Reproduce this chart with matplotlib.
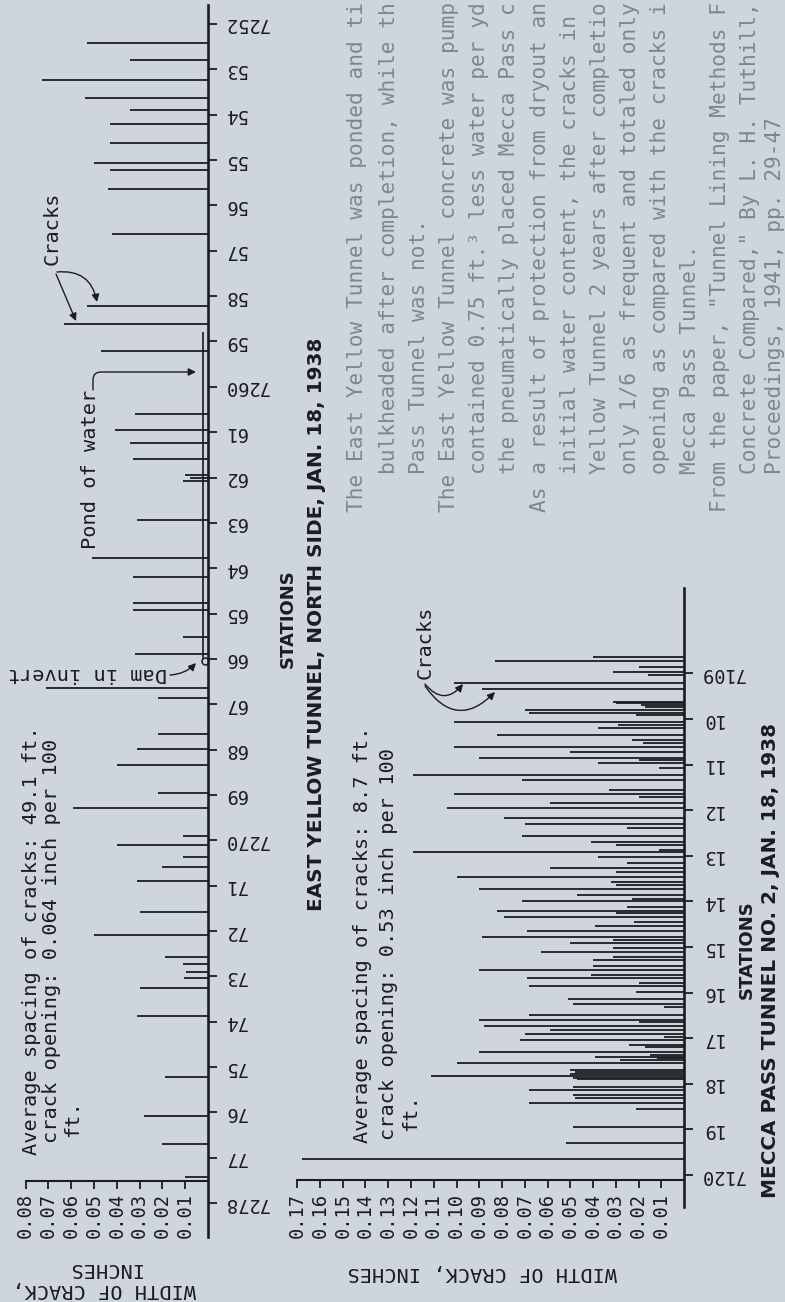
import matplotlib.pyplot as plt

# --- chart data ---
# East Yellow Tunnel, north side: crack position (station) and width (inches)
ey_station = [7252.42, 7252.79, 7253.23, 7253.63, 7253.90, 7254.21, 7254.62, 7255.07,
              7255.22, 7255.64, 7256.63, 7258.22, 7258.62, 7259.21, 7260.60, 7260.95,
              7261.24, 7261.59, 7261.95, 7262.01, 7262.07, 7262.94, 7263.78, 7264.19,
              7264.77, 7264.93, 7265.52, 7265.89, 7266.64, 7266.86, 7267.66, 7267.99,
              7268.34, 7268.96, 7269.29, 7269.91, 7270.10, 7270.37, 7270.59, 7270.90,
              7271.58, 7272.09, 7272.57, 7272.73, 7272.90, 7273.04, 7273.26, 7273.87,
              7275.22, 7276.08, 7276.70, 7277.42]
ey_width = [0.053, 0.034, 0.073, 0.054, 0.034, 0.043, 0.043, 0.050,
            0.043, 0.044, 0.042, 0.053, 0.063, 0.047, 0.032, 0.041,
            0.034, 0.033, 0.010, 0.008, 0.011, 0.031, 0.051, 0.033,
            0.033, 0.033, 0.011, 0.032, 0.071, 0.022, 0.022, 0.031,
            0.040, 0.022, 0.059, 0.011, 0.040, 0.011, 0.020, 0.031,
            0.030, 0.050, 0.019, 0.011, 0.0095, 0.0105, 0.030, 0.031,
            0.019, 0.028, 0.020, 0.010]
ey_ticks = list(range(7252, 7279))
ey_ticklabels = ['7252', '53', '54', '55', '56', '57', '58', '59', '7260',
                 '61', '62', '63', '64', '65', '66', '67', '68', '69', '7270',
                 '71', '72', '73', '74', '75', '76', '77', '7278']
ey_width_ticks = [0.01, 0.02, 0.03, 0.04, 0.05, 0.06, 0.07, 0.08]

# Mecca Pass Tunnel No. 2
mp_station = [7108.65, 7108.72, 7108.85, 7108.98, 7109.04, 7109.20, 7109.35, 7109.62,
              7109.66, 7109.69, 7109.73, 7109.80, 7109.86, 7109.91, 7110.07, 7110.13,
              7110.20, 7110.35, 7110.46, 7110.53, 7110.62, 7110.73, 7110.85, 7110.91,
              7110.97, 7111.08, 7111.23, 7111.34, 7111.56, 7111.65, 7111.70, 7111.85,
              7111.96, 7112.18, 7112.30, 7112.40, 7112.57, 7112.69, 7112.76, 7112.87,
              7112.92, 7113.03, 7113.16, 7113.27, 7113.35, 7113.46, 7113.57, 7113.64,
              7113.73, 7113.86, 7113.95, 7113.99, 7114.12, 7114.20, 7114.26, 7114.34,
              7114.45, 7114.55, 7114.66, 7114.77, 7114.85, 7114.92, 7115.03, 7115.10,
              7115.21, 7115.29, 7115.41, 7115.50, 7115.61, 7115.69, 7115.78, 7115.85,
              7115.98, 7116.13, 7116.24, 7116.31, 7116.49, 7116.59, 7116.64, 7116.73,
              7116.82, 7116.91, 7116.97, 7117.05, 7117.15, 7117.20, 7117.30, 7117.36,
              7117.41, 7117.44, 7117.48, 7117.55, 7117.70, 7117.75, 7117.79, 7117.82,
              7117.87, 7117.90, 7118.06, 7118.14, 7118.25, 7118.32, 7118.43, 7118.55,
              7118.94, 7119.29, 7119.65]
mp_width = [0.040, 0.083, 0.020, 0.031, 0.016, 0.101, 0.089, 0.031,
            0.030, 0.019, 0.017, 0.070, 0.068, 0.021, 0.101, 0.029,
            0.038, 0.082, 0.023, 0.018, 0.101, 0.050, 0.090, 0.020,
            0.038, 0.011, 0.119, 0.071, 0.033, 0.101, 0.020, 0.059,
            0.104, 0.079, 0.070, 0.025, 0.071, 0.041, 0.030, 0.011,
            0.119, 0.038, 0.025, 0.059, 0.030, 0.100, 0.032, 0.030,
            0.090, 0.047, 0.023, 0.071, 0.025, 0.082, 0.030, 0.079,
            0.022, 0.039, 0.069, 0.089, 0.031, 0.050, 0.031, 0.063,
            0.031, 0.040, 0.040, 0.090, 0.041, 0.069, 0.020, 0.068,
            0.021, 0.051, 0.049, 0.009, 0.068, 0.090, 0.020, 0.088,
            0.059, 0.070, 0.009, 0.072, 0.024, 0.017, 0.090, 0.015,
            0.039, 0.012, 0.028, 0.100, 0.050, 0.048, 0.050, 0.111,
            0.049, 0.047, 0.049, 0.068, 0.049, 0.048, 0.068, 0.021,
            0.049, 0.052, 0.168]
mp_ticks = list(range(7109, 7121))
mp_ticklabels = ['7109', '10', '11', '12', '13', '14', '15', '16', '17', '18', '19', '7120']
mp_width_ticks = [0.01, 0.02, 0.03, 0.04, 0.05, 0.06, 0.07, 0.08, 0.09,
                  0.10, 0.11, 0.12, 0.13, 0.14, 0.15, 0.16, 0.17]

note_lines = [
    'The East Yellow Tunnel was ponded and ti',
    'bulkheaded after completion, while th',
    'Pass Tunnel was not.',
    'The East Yellow Tunnel concrete was pump',
    'contained 0.75 ft.\u00b3 less water per yd',
    'the pneumatically placed Mecca Pass c',
    'As a result of protection from dryout an',
    'initial water content, the cracks in',
    'Yellow Tunnel 2 years after completio',
    'only 1/6 as frequent and totaled only',
    'opening as compared with the cracks i',
    'Mecca Pass Tunnel.',
    'From the paper, "Tunnel Lining Methods F',
    'Concrete Compared," By L. H. Tuthill,',
    'Proceedings, 1941, pp. 29-47',
]
note_first = [True, False, False, True, False, False, True, False, False,
              False, False, False, True, False, False]

# --- layout ---
W, H = 785, 1302
BG = '#cfd5df'
INK = '#1b1c1f'
GREY = '#80868f'
MONO = 'DejaVu Sans Mono'
plt.rcParams['font.family'] = MONO

fig = plt.figure(figsize=(W / 100, H / 100), dpi=100, facecolor=BG)


def fx(px):
    return px / W


def fy(py):
    return 1 - py / H


def P(px, py):
    return (px, H - py)


def panel(x0, x1, zero_px, px_per_001, st_ref, st_ref_px, px_per_st):
    ax = fig.add_axes([fx(x0), 0, (x1 - x0) / W, 1])
    ax.patch.set_visible(False)
    ax.set_xlim((zero_px - x0) / px_per_001 * 0.01, (zero_px - x1) / px_per_001 * 0.01)
    ax.set_ylim(st_ref + (H - st_ref_px) / px_per_st, st_ref - st_ref_px / px_per_st)
    for s in ['top', 'left']:
        ax.spines[s].set_visible(False)
    return ax


def style_axes(ax, st_lo, st_hi, bar_st, ticks, ticklabels, wticks):
    ax.spines['right'].set_position(('data', 0))
    ax.spines['right'].set_bounds(st_lo, st_hi)
    ax.spines['right'].set_linewidth(1.9)
    ax.spines['bottom'].set_position(('data', bar_st))
    ax.spines['bottom'].set_bounds(0, wticks[-1])
    ax.spines['bottom'].set_linewidth(1.5)
    for s in ['right', 'bottom']:
        ax.spines[s].set_color(INK)
    ax.yaxis.tick_right()
    ax.set_yticks(ticks, ticklabels)
    ax.set_xticks(wticks, [f'{v:.2f}' for v in wticks])
    ax.tick_params(axis='y', direction='out', length=6.5, width=1.3, pad=5,
                   labelsize=13.5, labelcolor=INK, color=INK, labelrotation=180)
    ax.tick_params(axis='x', direction='out', length=6, width=1.3, pad=3,
                   labelsize=13.5, labelcolor=INK, color=INK, labelrotation=90)
    for lab in ax.get_yticklabels():
        lab.set_va('center')


# East Yellow Tunnel panel (left)
ax1 = panel(0, 250, 208, 22.8, 7252, 24, 45.35)
style_axes(ax1, 7251.58, 7278.75, 7277.51, ey_ticks, ey_ticklabels, ey_width_ticks)
ax1.hlines(ey_station, 0, ey_width, color=INK, lw=1.3)
ax1.vlines(0.0022, 7258.8, 7266.0, color=INK, lw=1.2)
ax1.plot(0.0012, 7266.05, 'o', mfc='none', mec=INK, ms=5, mew=1.1)

# Mecca Pass panel (right)
ax2 = panel(250, 785, 684, 22.75, 7120, 1175, 45.6)
style_axes(ax2, 7107.13, 7120.70, 7120.11, mp_ticks, mp_ticklabels, mp_width_ticks)
ax2.hlines(mp_station, 0, mp_width, color=INK, lw=1.3)

# --- lettering ---
tk = dict(color=INK, fontsize=14.6, family=MONO)

fig.text(fx(32), fy(1155), 'Average spacing of cracks: 49.1 ft.', rotation=90, ha='center', va='bottom', **tk)
fig.text(fx(52), fy(1143), 'crack opening: 0.064 inch per 100', rotation=90, ha='center', va='bottom', **tk)
fig.text(fx(73), fy(1137), 'ft.', rotation=90, ha='center', va='bottom', **tk)

fig.text(fx(363), fy(1143), 'Average spacing of cracks: 8.7 ft.', rotation=90, ha='center', va='bottom', **tk)
fig.text(fx(388), fy(1140), 'crack opening: 0.53 inch per 100', rotation=90, ha='center', va='bottom', **tk)
fig.text(fx(411), fy(1131), 'ft.', rotation=90, ha='center', va='bottom', **tk)

fig.text(fx(104), fy(1279), 'WIDTH OF CRACK,\nINCHES', rotation=180, ha='center', va='center',
         multialignment='center', linespacing=1.1, **tk)
fig.text(fx(482), fy(1273), 'WIDTH OF CRACK, INCHES', rotation=180, ha='center', va='center', **tk)

fig.text(fx(52), fy(265), 'Cracks', rotation=90, ha='center', va='bottom', **tk)
fig.text(fx(425), fy(679), 'Cracks', rotation=90, ha='center', va='bottom', **tk)
fig.text(fx(90), fy(549), 'Pond of water', rotation=90, ha='center', va='bottom', **tk)
fig.text(fx(87), fy(673), 'Dam in invert', rotation=180, ha='center', va='center', **tk)

hd = dict(color=INK, fontsize=14.4, family='DejaVu Sans', fontweight='bold')
fig.text(fx(316), fy(624), 'EAST YELLOW TUNNEL, NORTH SIDE, JAN. 18, 1938', rotation=90,
         ha='center', va='center', **hd)
fig.text(fx(288), fy(619), 'STATIONS', rotation=90, ha='center', va='center', **dict(hd, fontsize=13))
fig.text(fx(770), fy(961), 'MECCA PASS TUNNEL NO. 2, JAN. 18, 1938', rotation=90,
         ha='center', va='center', **hd)
fig.text(fx(747), fy(950), 'STATIONS', rotation=90, ha='center', va='center', **dict(hd, fontsize=13))

# explanatory note, running off the top of the page
note_x = [357, 389, 419, 449, 479, 509, 540, 570, 600, 630, 660, 690, 720, 750, 775]
for x, line, first in zip(note_x, note_lines, note_first):
    fig.text(fx(x), fy(512 if first else 474), line, rotation=90, ha='center', va='bottom',
             color=GREY, fontsize=15.2, family=MONO)

# --- leader arrows ---
ap = dict(arrowstyle='-|>', color=INK, lw=1.0, mutation_scale=11, shrinkA=0, shrinkB=0)
fc = 'figure pixels'
fig.add_artist(plt.matplotlib.text.Annotation('', xy=P(97, 302), xytext=P(57, 272), xycoords=fc, textcoords=fc,
               arrowprops=dict(ap, connectionstyle='arc3,rad=-0.45')))
fig.add_artist(plt.matplotlib.text.Annotation('', xy=P(76, 321), xytext=P(56, 274), xycoords=fc, textcoords=fc,
               arrowprops=dict(ap, connectionstyle='arc3,rad=0')))
fig.add_artist(plt.matplotlib.text.Annotation('', xy=P(196, 372), xytext=P(93, 390), xycoords=fc, textcoords=fc,
               arrowprops=dict(ap, connectionstyle='angle,angleA=90,angleB=0,rad=8')))
fig.add_artist(plt.matplotlib.text.Annotation('', xy=P(196, 663), xytext=P(170, 675), xycoords=fc, textcoords=fc,
               arrowprops=dict(ap, connectionstyle='arc3,rad=0.2')))
fig.add_artist(plt.matplotlib.text.Annotation('', xy=P(463, 684), xytext=P(425, 684), xycoords=fc, textcoords=fc,
               arrowprops=dict(ap, connectionstyle='arc3,rad=0.6')))
fig.add_artist(plt.matplotlib.text.Annotation('', xy=P(495, 692), xytext=P(425, 686), xycoords=fc, textcoords=fc,
               arrowprops=dict(ap, connectionstyle='arc3,rad=0.6')))

fig.savefig('out.png', dpi=100, facecolor=BG)
